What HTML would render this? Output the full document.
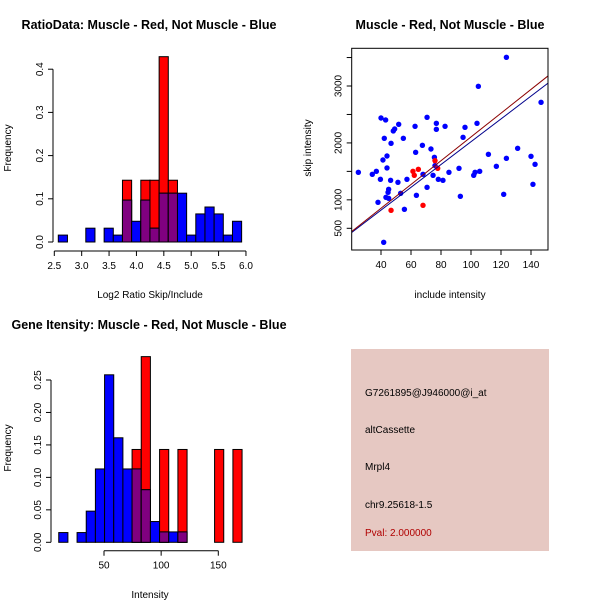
<!DOCTYPE html>
<html><head><meta charset="utf-8"><style>
body{margin:0;background:#fff}
svg{display:block;font-family:"Liberation Sans",sans-serif}
</style></head><body>
<svg id="s" width="600" height="600" viewBox="0 0 600 600">
<rect width="600" height="600" fill="#fff"/>
<text x="149" y="29" text-anchor="middle" font-size="12.5" font-weight="bold">RatioData: Muscle - Red, Not Muscle - Blue</text>
<text x="450" y="29" text-anchor="middle" font-size="12.5" font-weight="bold">Muscle - Red, Not Muscle - Blue</text>
<text x="149" y="329" text-anchor="middle" font-size="12.5" font-weight="bold">Gene Itensity: Muscle - Red, Not Muscle - Blue</text>
<text x="150" y="298" text-anchor="middle" font-size="10">Log2 Ratio Skip/Include</text>
<text x="450" y="298" text-anchor="middle" font-size="10">include intensity</text>
<text x="150" y="598" text-anchor="middle" font-size="10">Intensity</text>
<text transform="translate(11,148) rotate(-90)" text-anchor="middle" font-size="10">Frequency</text>
<text transform="translate(311,148) rotate(-90)" text-anchor="middle" font-size="10">skip intensity</text>
<text transform="translate(11,448) rotate(-90)" text-anchor="middle" font-size="10">Frequency</text>
<g>
<rect x="351" y="349" width="198" height="202" fill="#e6c8c2"/>
<text x="365" y="396" font-size="10">G7261895@J946000@i_at</text>
<text x="365" y="433" font-size="10">altCassette</text>
<text x="365" y="470" font-size="10">Mrpl4</text>
<text x="365" y="508" font-size="10">chr9.25618-1.5</text>
<text x="365" y="536" font-size="10" fill="#b00000">Pval: 2.000000</text>
</g>
</svg>
<script>
// ---- Ratio histogram data ----
const ratioStart = 2.573, ratioWidth = 0.1674;
const ratioBlue = [0.016,0,0,0.032,0,0.032,0.016,0.097,0.048,0.097,0.032,0.113,0.113,0.113,0.016,0.065,0.081,0.065,0.016,0.048];
const ratioRed  = [0,0,0,0,0,0,0,0.143,0,0.143,0.143,0.429,0.143,0,0,0,0,0,0,0];
const ratioXTicks = ["2.5","3.0","3.5","4.0","4.5","5.0","5.5","6.0"];
const ratioYTicks = ["0.0","0.1","0.2","0.3","0.4"];
// ---- Intensity histogram data ----
const intStart = 10.4, intWidth = 8.02;
const intBlue = [0.015,0,0.015,0.048,0.113,0.258,0.161,0.113,0.113,0.081,0.032,0.016,0.016,0.016,0,0,0,0,0,0];
const intRed  = [0,0,0,0,0,0,0,0,0.143,0.286,0,0.143,0,0.143,0,0,0,0.143,0,0.143];
const intXTicks = ["50","100","150"];
const intYTicks = ["0.00","0.05","0.10","0.15","0.20","0.25"];
// ---- Scatter data ----
const blueX = [24.9,34.2,36.9,39.6,40,43.1,42.2,46.7,41.3,44,44,46.4,45.1,44.7,43.3,45.1,38,41.8,48.2,49.1,51.8,51.3,53.1,54.9,55.6,57.3,62.7,63.1,63.6,67.6,68,70.7,70.7,73.3,74.7,75.6,76,76.9,76.9,78.2,81.3,82.7,85.3,92,92.9,94.7,96,101.8,102.7,104,104.9,105.8,111.6,116.9,121.8,123.6,123.6,131.1,140,141.3,142.7,146.7];
const blueY = [1484,1449,1501,1361,2438,2403,2081,1993,1700,1770,1560,1343,1185,1132,1045,1027,957,254,2210,2245,2327,1308,1115,2081,834,1361,2292,1835,1080,1958,1449,2450,1220,1893,1431,1747,1601,2344,2239,1361,1343,2292,1484,1554,1062,2098,2274,1431,1484,2344,2994,1501,1800,1589,1097,1729,3504,1905,1765,1273,1624,2713];
const redX = [46.7,61.3,62.2,64.9,68,76,77.8];
const redY = [816,1501,1431,1536,904,1688,1554];
const fitRed = [17,20.88];
const fitBlue = [17,20.04];
const scXTicks = ["40","60","80","100","120","140"];
const scYTicks = ["500","1000","1500","2000","2500","3000","3500"];
const scYLabels = ["500","1000","","2000","","3000",""];

const svg = document.getElementById('s');
const NS = 'http://www.w3.org/2000/svg';
function mk(tag, attrs, parent){const e=document.createElementNS(NS,tag);for(const k in attrs)e.setAttribute(k,attrs[k]);(parent||svg).appendChild(e);return e;}

function hist(o){
  const g = mk('g',{});
  
  
  const X=v=>o.x0+(v-o.xv0)*o.xs, Y=v=>o.y0-v*o.ys;
  for(let i=0;i<o.blue.length;i++){
    const a=o.start+i*o.w, b=a+o.w, r=o.red[i], bl=o.blue[i];
    const draw=(h,fill,nm)=>{ if(h<=0)return; const e=mk('rect',{x:X(a),y:Y(h),width:X(b)-X(a),height:Y(0)-Y(h),fill:fill,stroke:'#000','stroke-width':1},g);
      
       };
    draw(r,'#ff0000','bar-red');
    draw(bl,'#0000ff','bar-blue');
    if(r>0&&bl>0) draw(Math.min(r,bl),'#800080','bar-overlap');
  }
  // y axis
  const yv=o.yticks.map(Number);
  mk('line',{x1:o.yax,y1:Y(yv[0]),x2:o.yax,y2:Y(yv[yv.length-1]),stroke:'#000'},g);
  o.yticks.forEach(t=>{const y=Y(+t);mk('line',{x1:o.yax-5,y1:y,x2:o.yax,y2:y,stroke:'#000'},g);
    const tx=mk('text',{transform:`translate(${o.yax-10},${y}) rotate(-90)`,'text-anchor':'middle','font-size':10},g);tx.textContent=t;});
  const xv=o.xticks.map(Number);
  mk('line',{x1:X(xv[0]),y1:o.xax,x2:X(xv[xv.length-1]),y2:o.xax,stroke:'#000'},g);
  o.xticks.forEach(t=>{const x=X(+t);mk('line',{x1:x,y1:o.xax,x2:x,y2:o.xax+5,stroke:'#000'},g);
    const tx=mk('text',{x:x,y:o.xax+18,'text-anchor':'middle','font-size':10},g);tx.textContent=t;});
}
hist({name:'ratio-histogram',start:ratioStart,w:ratioWidth,blue:ratioBlue,red:ratioRed,xticks:ratioXTicks,yticks:ratioYTicks,
  x0:54.3,xv0:2.5,xs:54.76,y0:242,ys:432,yax:53,xax:251});
hist({name:'intensity-histogram',start:intStart,w:intWidth,blue:intBlue,red:intRed,xticks:intXTicks,yticks:intYTicks,
  x0:104,xv0:50,xs:1.143,y0:542.3,ys:649.2,yax:51,xax:550.7});

// scatter
const sg = mk('g',{});


const L=351.7,R=548,T=48.3,B=250;
const SX=v=>381+(v-40)*1.5, SY=v=>228.3-(v-500)*0.05692;
const xmin=(L-381)/1.5+40, xmax=(R-381)/1.5+40;
const cp=mk('clipPath',{id:'cp'},sg); mk('rect',{x:L,y:T,width:R-L,height:B-T},cp);
blueX.forEach((x,i)=>{const c=mk('circle',{cx:SX(x),cy:SY(blueY[i]),r:2.7,fill:'#0000ff'},sg);
  
  });
redX.forEach((x,i)=>{const c=mk('circle',{cx:SX(x),cy:SY(redY[i]),r:2.7,fill:'#ff0000'},sg);
  
  });
[[fitBlue,'#00008b','fit-line-blue'],[fitRed,'#8b0000','fit-line-red']].forEach(([f,c,n])=>{
  const l=mk('line',{x1:SX(xmin),y1:SY(f[0]+f[1]*xmin),x2:SX(xmax),y2:SY(f[0]+f[1]*xmax),stroke:c,'stroke-width':1,'clip-path':'url(#cp)'},sg);
  
  });
mk('rect',{x:L,y:T,width:R-L,height:B-T,fill:'none',stroke:'#000'},sg);
scXTicks.forEach(t=>{const x=SX(+t);mk('line',{x1:x,y1:B,x2:x,y2:B+5,stroke:'#000'},sg);
  const tx=mk('text',{x:x,y:B+18,'text-anchor':'middle','font-size':10},sg);tx.textContent=t;});
scYTicks.forEach((t,i)=>{const y=SY(+t);mk('line',{x1:L-5,y1:y,x2:L,y2:y,stroke:'#000'},sg);
  if(scYLabels[i]){const tx=mk('text',{transform:`translate(${L-10},${y}) rotate(-90)`,'text-anchor':'middle','font-size':10},sg);tx.textContent=scYLabels[i];}});
</script>
</body></html>
